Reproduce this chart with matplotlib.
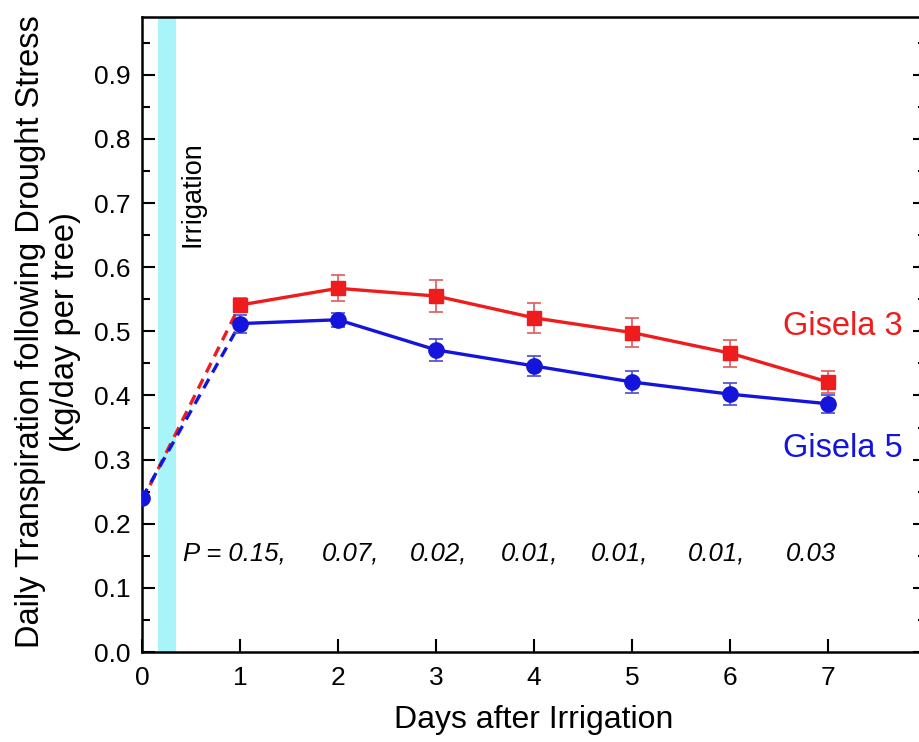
import matplotlib
matplotlib.use('Agg')
import matplotlib.pyplot as plt
from matplotlib.ticker import MultipleLocator, FuncFormatter

plt.rcParams['font.family'] = ['Liberation Sans', 'DejaVu Sans']

days = [1, 2, 3, 4, 5, 6, 7]
g3 = [0.541, 0.567, 0.555, 0.521, 0.498, 0.466, 0.421]
g3_err = [0.011, 0.020, 0.025, 0.023, 0.023, 0.021, 0.017]
g5 = [0.512, 0.518, 0.471, 0.446, 0.421, 0.402, 0.387]
g5_err = [0.014, 0.011, 0.017, 0.016, 0.017, 0.017, 0.014]
g3_day0 = 0.235
g5_day0 = 0.240
p_values = ['P = 0.15,', '0.07,', '0.02,', '0.01,', '0.01,', '0.01,', '0.03']
p_pos = [0.42, 2.13, 3.03, 3.95, 4.87, 5.86, 6.83]

red = '#ee1c1c'
blue = '#1414dc'

fig = plt.figure(figsize=(9.19, 7.42), dpi=100)
ax = fig.add_axes([142 / 919, 90 / 742, (926 - 142) / 919, (652 - 17) / 742])

ax.axvspan(0.16, 0.35, color='#a8f4f8', lw=0, zorder=0)
ax.text(0.52, 0.797, 'Irrigation', rotation=90, ha='center', va='top', fontsize=19.5)

# dashed connection from day 0 to day 1
ax.plot([0, 1], [g3_day0, g3[0]], color=red, lw=2.4, dashes=(3.2, 2.2), zorder=2)
ax.plot([0, 1], [g5_day0, g5[0]], color=blue, lw=2.4, dashes=(3.2, 2.2), zorder=2)
ax.plot([0], [g5_day0], 'o', color=blue, ms=11, zorder=3)

ax.errorbar(days, g3, yerr=g3_err, color=red, ecolor='#e05a5a', lw=2.4, elinewidth=1.2,
            capsize=5, capthick=1.2, marker='s', ms=10, zorder=4)
ax.errorbar(days, g5, yerr=g5_err, color=blue, ecolor='#4a4ad0', lw=2.4, elinewidth=1.2,
            capsize=5, capthick=1.2, marker='o', ms=11, zorder=4)

ax.text(7.15, 0.507, 'Gisela 3', color=red, fontsize=23.5, ha='center', va='center')
ax.text(7.15, 0.318, 'Gisela 5', color=blue, fontsize=23.5, ha='center', va='center')

for i, (x, s) in enumerate(zip(p_pos, p_values)):
    ax.text(x, 0.153, s, fontsize=18.5, style='italic', ha='left' if i == 0 else 'center', va='center')

ax.set_xlim(0, 8)
ax.set_ylim(0, 0.99)
ax.set_xticks(range(0, 8))
ax.yaxis.set_major_locator(MultipleLocator(0.1))
ax.yaxis.set_minor_locator(MultipleLocator(0.05))
ax.xaxis.set_major_formatter(FuncFormatter(lambda v, p: f'{v:.0f}'))
ax.yaxis.set_major_formatter(FuncFormatter(lambda v, p: f'{v:.1f}'))
ax.tick_params(which='both', direction='in', right=True, top=False, labelsize=19, width=1.5)
ax.tick_params(which='major', length=9.5)
ax.tick_params(which='minor', length=6)
ax.tick_params(axis='x', pad=10)
ax.tick_params(axis='y', pad=8)
for sp in ax.spines.values():
    sp.set_linewidth(1.8)

fig.text(534 / 919, 1 - 720 / 742, 'Days after Irrigation', fontsize=23, ha='center', va='center')
fig.text(48 / 919, 1 - 332 / 742, 'Daily Transpiration following Drought Stress\n(kg/day per tree)',
         fontsize=23.5, rotation=90, ha='center', va='center', multialignment='center', linespacing=1.2)

fig.savefig('out.png', dpi=100)
